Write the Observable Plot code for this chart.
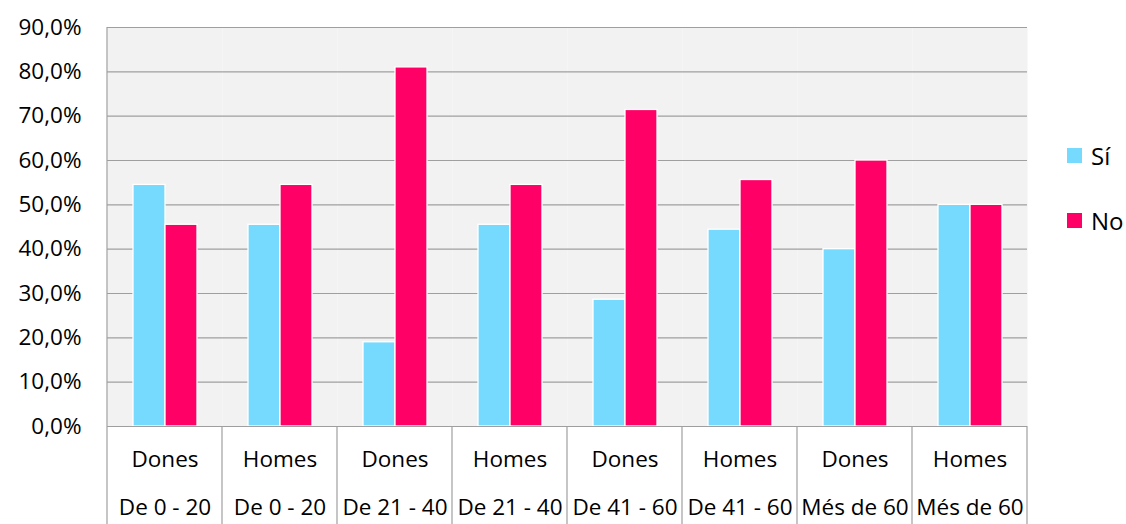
<!DOCTYPE html>
<html>
<head>
<meta charset="utf-8">
<script src="https://cdn.jsdelivr.net/npm/d3@7"></script>
<script src="https://cdn.jsdelivr.net/npm/@observablehq/plot@0.6"></script>
<style>
  html, body { margin: 0; padding: 0; background: #fff; }
  #wrap { position: relative; width: 1126px; height: 524px; overflow: hidden; font-family: "Open Sans", sans-serif; }
  #legend { position: absolute; left: 1067px; top: 136px; font-size: 24px; color: #000; }
  #legend .item { display: flex; align-items: center; height: 38px; margin-bottom: 27px; }
  #legend .sw { width: 15px; height: 15px; margin-right: 9px; flex-shrink: 0; }
</style>
</head>
<body>
<div id="wrap"><div id="legend"></div></div>
<script>
const groups = ["Dones", "Homes", "Dones", "Homes", "Dones", "Homes", "Dones", "Homes"];
const ages = ["De 0 - 20", "De 0 - 20", "De 21 - 40", "De 21 - 40", "De 41 - 60", "De 41 - 60", "Més de 60", "Més de 60"];
const series = ["Sí", "No"];
const siValues = [54.5, 45.5, 19.0, 45.5, 28.6, 44.4, 40.0, 50.0];
const noValues = [45.5, 54.5, 81.0, 54.5, 71.4, 55.6, 60.0, 50.0];
const colors = ["#76DAFF", "#FF0066"];
const yTicks = [0, 10, 20, 30, 40, 50, 60, 70, 80, 90];

const keys = groups.map((g, i) => g + "|" + ages[i]);
const cats = keys.map((k, i) => ({key: k, group: groups[i], age: ages[i]}));
const rows = [];
keys.forEach((k, i) => {
  rows.push({key: k, series: "Sí", value: siValues[i]});
  rows.push({key: k, series: "No", value: noValues[i]});
});
const fmt = d => d.toFixed(1).replace(".", ",") + "%";
const gridColor = "#9f9f9f";

const chart = Plot.plot({
  width: 1126,
  height: 524,
  marginLeft: 104,
  marginRight: 97,
  marginTop: 27,
  marginBottom: 98,
  style: {fontFamily: "Open Sans, sans-serif", fontSize: "20px", color: "#000", background: "transparent"},
  fx: {domain: keys, padding: 0, axis: null, label: null},
  x: {domain: series, paddingInner: 0, paddingOuter: 0.78, axis: null},
  y: {domain: [0, 90], axis: null},
  color: {domain: series, range: colors},
  marks: [
    Plot.frame({fill: "#f2f2f2", stroke: null}),
    Plot.ruleY(yTicks, {y: d => d, stroke: gridColor, strokeWidth: 1.2}),
    Plot.barY(rows, {fx: "key", x: "series", y: "value", fill: "series", stroke: "white", strokeWidth: 1.3}),
    Plot.ruleY([0], {stroke: gridColor, strokeWidth: 1.2}),
    Plot.text(yTicks, {fx: () => keys[0], y: d => d, text: fmt, frameAnchor: "left", textAnchor: "end", dx: -26, fontSize: 22.5, fill: "#000"}),
    Plot.text(cats, {fx: "key", text: "group", frameAnchor: "bottom", dy: 40, fontSize: 22.5, fill: "#000"}),
    Plot.text(cats, {fx: "key", text: "age", frameAnchor: "bottom", dy: 88, fontSize: 22.5, fill: "#000"})
  ]
});

// Category divider lines in the label area and the left axis line, from Plot's scales
const fxs = chart.scale("fx");
const ys = chart.scale("y");
const svg = d3.select(chart);
const y0 = ys.apply(0);
const yTop = ys.apply(90);
const bounds = keys.map(k => fxs.apply(k));
bounds.push(fxs.apply(keys[keys.length - 1]) + fxs.bandwidth);
const g = svg.append("g").attr("stroke", gridColor).attr("stroke-width", 1.2);
bounds.forEach((bx, i) => {
  g.append("line")
    .attr("x1", bx).attr("x2", bx)
    .attr("y1", i === 0 ? yTop : y0)
    .attr("y2", 524);
});

document.getElementById("wrap").prepend(chart);

const legend = d3.select("#legend");
series.forEach((s, i) => {
  const item = legend.append("div").attr("class", "item");
  item.append("div").attr("class", "sw").style("background", colors[i]);
  item.append("span").text(s);
});
</script>
</body>
</html>
